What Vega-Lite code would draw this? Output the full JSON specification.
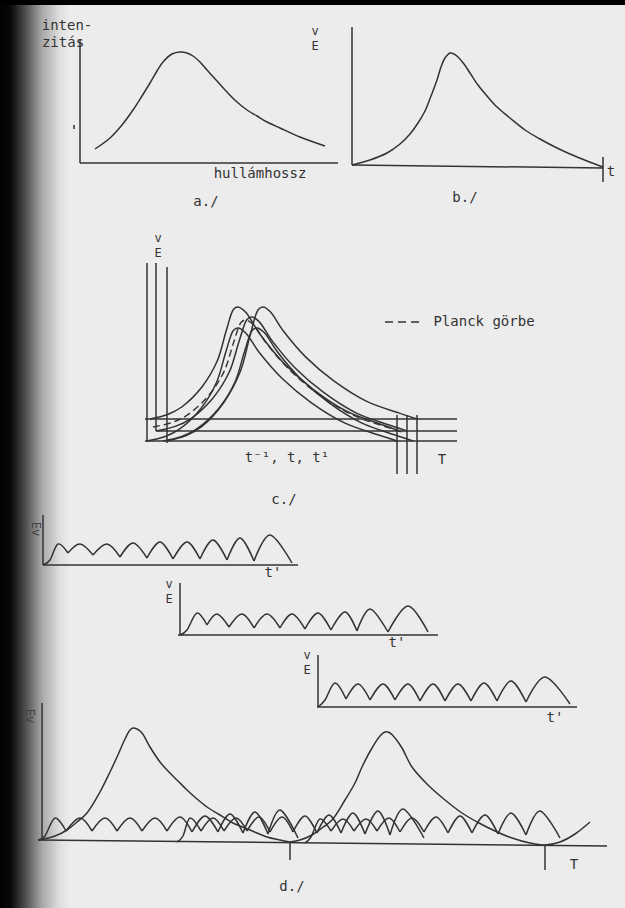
{
  "$schema": "https://vega.github.io/schema/vega-lite/v6.json",
  "width": 625,
  "height": 908,
  "padding": 0,
  "autosize": {"type": "none"},
  "background": "#ececec",
  "config": {"view": {"stroke": null}},
  "datasets": {
    "band": [{"x": 0, "x2": 625, "y": 0, "y2": 5}],
    "edge": [{"x": 0, "x2": 70, "y": 0, "y2": 908}],
    "segs": [
      {"x": 80, "y": 40, "x2": 80, "y2": 163},
      {"x": 80, "y": 163, "x2": 338, "y2": 163},
      {"x": 74, "y": 125, "x2": 74, "y2": 129},
      {"x": 352, "y": 27, "x2": 352, "y2": 165},
      {"x": 352, "y": 165, "x2": 603, "y2": 168},
      {"x": 603, "y": 157, "x2": 603, "y2": 182},
      {"x": 147, "y": 263, "x2": 147, "y2": 442},
      {"x": 156, "y": 263, "x2": 156, "y2": 431},
      {"x": 167, "y": 267, "x2": 167, "y2": 443},
      {"x": 145, "y": 419, "x2": 457, "y2": 419},
      {"x": 156, "y": 431, "x2": 457, "y2": 431},
      {"x": 145, "y": 441, "x2": 457, "y2": 441},
      {"x": 397, "y": 415, "x2": 397, "y2": 474},
      {"x": 407, "y": 415, "x2": 407, "y2": 474},
      {"x": 417, "y": 415, "x2": 417, "y2": 474},
      {"x": 43, "y": 515, "x2": 43, "y2": 565},
      {"x": 43, "y": 565, "x2": 298, "y2": 565},
      {"x": 180, "y": 583, "x2": 180, "y2": 635},
      {"x": 178, "y": 635, "x2": 438, "y2": 635},
      {"x": 318, "y": 655, "x2": 318, "y2": 707},
      {"x": 317, "y": 707, "x2": 577, "y2": 707},
      {"x": 42, "y": 703, "x2": 42, "y2": 840},
      {"x": 38, "y": 840, "x2": 607, "y2": 846},
      {"x": 290, "y": 842, "x2": 290, "y2": 860},
      {"x": 545, "y": 845, "x2": 545, "y2": 870}
    ],
    "legendDash": [{"x": 385, "y": 322, "x2": 420, "y2": 322}],
    "curves": [
      {"id": "a", "x": 95, "y": 149}, {"id": "a", "x": 110, "y": 138}, {"id": "a", "x": 122, "y": 125}, {"id": "a", "x": 133, "y": 110}, {"id": "a", "x": 142, "y": 96}, {"id": "a", "x": 150, "y": 83}, {"id": "a", "x": 157, "y": 71}, {"id": "a", "x": 163, "y": 62}, {"id": "a", "x": 172, "y": 54}, {"id": "a", "x": 180, "y": 52}, {"id": "a", "x": 187, "y": 53}, {"id": "a", "x": 193, "y": 56}, {"id": "a", "x": 200, "y": 62}, {"id": "a", "x": 207, "y": 70}, {"id": "a", "x": 217, "y": 81}, {"id": "a", "x": 227, "y": 92}, {"id": "a", "x": 237, "y": 102}, {"id": "a", "x": 247, "y": 110}, {"id": "a", "x": 257, "y": 116}, {"id": "a", "x": 267, "y": 122}, {"id": "a", "x": 280, "y": 128}, {"id": "a", "x": 300, "y": 137}, {"id": "a", "x": 325, "y": 146},
      {"id": "b", "x": 352, "y": 165}, {"id": "b", "x": 370, "y": 160}, {"id": "b", "x": 387, "y": 153}, {"id": "b", "x": 400, "y": 144}, {"id": "b", "x": 410, "y": 134}, {"id": "b", "x": 418, "y": 123}, {"id": "b", "x": 425, "y": 111}, {"id": "b", "x": 431, "y": 96}, {"id": "b", "x": 437, "y": 80}, {"id": "b", "x": 441, "y": 67}, {"id": "b", "x": 445, "y": 58}, {"id": "b", "x": 450, "y": 53}, {"id": "b", "x": 454, "y": 54}, {"id": "b", "x": 458, "y": 57}, {"id": "b", "x": 464, "y": 64}, {"id": "b", "x": 470, "y": 73}, {"id": "b", "x": 478, "y": 85}, {"id": "b", "x": 487, "y": 96}, {"id": "b", "x": 497, "y": 107}, {"id": "b", "x": 510, "y": 118}, {"id": "b", "x": 525, "y": 130}, {"id": "b", "x": 540, "y": 139}, {"id": "b", "x": 555, "y": 147}, {"id": "b", "x": 570, "y": 154}, {"id": "b", "x": 587, "y": 161}, {"id": "b", "x": 603, "y": 167},
      {"id": "cA", "x": 150, "y": 419}, {"id": "cA", "x": 167.6, "y": 414.5}, {"id": "cA", "x": 181.7, "y": 407}, {"id": "cA", "x": 201.9, "y": 387}, {"id": "cA", "x": 217.3, "y": 360.8}, {"id": "cA", "x": 226.3, "y": 330.5}, {"id": "cA", "x": 233.6, "y": 309.2}, {"id": "cA", "x": 238, "y": 307}, {"id": "cA", "x": 245.5, "y": 312}, {"id": "cA", "x": 259.1, "y": 333}, {"id": "cA", "x": 283.4, "y": 362.8}, {"id": "cA", "x": 312.5, "y": 388.8}, {"id": "cA", "x": 346.5, "y": 411.2}, {"id": "cA", "x": 382.2, "y": 424.8}, {"id": "cA", "x": 400, "y": 431},
      {"id": "cB", "x": 167, "y": 441}, {"id": "cB", "x": 186.2, "y": 435.6}, {"id": "cB", "x": 201.6, "y": 426.7}, {"id": "cB", "x": 223.6, "y": 402.7}, {"id": "cB", "x": 240.4, "y": 371.3}, {"id": "cB", "x": 250.2, "y": 335.1}, {"id": "cB", "x": 258.2, "y": 309.7}, {"id": "cB", "x": 263, "y": 307}, {"id": "cB", "x": 270.1, "y": 311.5}, {"id": "cB", "x": 283, "y": 330.5}, {"id": "cB", "x": 306.1, "y": 357.4}, {"id": "cB", "x": 333.8, "y": 380.9}, {"id": "cB", "x": 366.2, "y": 401.1}, {"id": "cB", "x": 400.1, "y": 413.4}, {"id": "cB", "x": 417, "y": 419},
      {"id": "cC", "x": 156, "y": 431}, {"id": "cC", "x": 175.2, "y": 426.4}, {"id": "cC", "x": 190.6, "y": 418.8}, {"id": "cC", "x": 212.6, "y": 398.4}, {"id": "cC", "x": 229.4, "y": 371.7}, {"id": "cC", "x": 239.2, "y": 340.9}, {"id": "cC", "x": 247.2, "y": 319.3}, {"id": "cC", "x": 252, "y": 317}, {"id": "cC", "x": 259.1, "y": 321.6}, {"id": "cC", "x": 272.2, "y": 340.9}, {"id": "cC", "x": 295.4, "y": 368.3}, {"id": "cC", "x": 323.3, "y": 392.2}, {"id": "cC", "x": 355.9, "y": 412.8}, {"id": "cC", "x": 390, "y": 425.3}, {"id": "cC", "x": 407, "y": 431},
      {"id": "cD", "x": 147, "y": 441}, {"id": "cD", "x": 165.2, "y": 436.5}, {"id": "cD", "x": 179.8, "y": 428.9}, {"id": "cD", "x": 200.7, "y": 408.7}, {"id": "cD", "x": 216.6, "y": 382.2}, {"id": "cD", "x": 225.9, "y": 351.7}, {"id": "cD", "x": 233.5, "y": 330.3}, {"id": "cD", "x": 238, "y": 328}, {"id": "cD", "x": 245.3, "y": 332.5}, {"id": "cD", "x": 258.7, "y": 351.7}, {"id": "cD", "x": 282.5, "y": 378.8}, {"id": "cD", "x": 311.1, "y": 402.6}, {"id": "cD", "x": 344.5, "y": 422.9}, {"id": "cD", "x": 379.5, "y": 435.3}, {"id": "cD", "x": 397, "y": 441},
      {"id": "cE", "x": 163, "y": 441}, {"id": "cE", "x": 181.8, "y": 436.5}, {"id": "cE", "x": 196.8, "y": 428.9}, {"id": "cE", "x": 218.5, "y": 408.7}, {"id": "cE", "x": 234.9, "y": 382.2}, {"id": "cE", "x": 244.5, "y": 351.7}, {"id": "cE", "x": 252.3, "y": 330.3}, {"id": "cE", "x": 257, "y": 328}, {"id": "cE", "x": 264.2, "y": 332.5}, {"id": "cE", "x": 277.3, "y": 351.7}, {"id": "cE", "x": 300.7, "y": 378.8}, {"id": "cE", "x": 328.8, "y": 402.6}, {"id": "cE", "x": 361.5, "y": 422.9}, {"id": "cE", "x": 395.8, "y": 435.3}, {"id": "cE", "x": 413, "y": 441},
      {"id": "d1", "x": 38, "y": 840}, {"id": "d1", "x": 55, "y": 836}, {"id": "d1", "x": 67, "y": 830}, {"id": "d1", "x": 77, "y": 822}, {"id": "d1", "x": 87, "y": 813}, {"id": "d1", "x": 100, "y": 792}, {"id": "d1", "x": 110, "y": 772}, {"id": "d1", "x": 117, "y": 757}, {"id": "d1", "x": 125, "y": 739}, {"id": "d1", "x": 130, "y": 730}, {"id": "d1", "x": 133, "y": 728}, {"id": "d1", "x": 137, "y": 729}, {"id": "d1", "x": 142, "y": 733}, {"id": "d1", "x": 150, "y": 747}, {"id": "d1", "x": 160, "y": 762}, {"id": "d1", "x": 167, "y": 770}, {"id": "d1", "x": 178, "y": 781}, {"id": "d1", "x": 187, "y": 790}, {"id": "d1", "x": 197, "y": 799}, {"id": "d1", "x": 207, "y": 807}, {"id": "d1", "x": 220, "y": 815}, {"id": "d1", "x": 233, "y": 823}, {"id": "d1", "x": 250, "y": 830}, {"id": "d1", "x": 267, "y": 837}, {"id": "d1", "x": 280, "y": 840}, {"id": "d1", "x": 290, "y": 842},
      {"id": "d2", "x": 290, "y": 842}, {"id": "d2", "x": 300, "y": 840}, {"id": "d2", "x": 312, "y": 835}, {"id": "d2", "x": 322, "y": 828}, {"id": "d2", "x": 332, "y": 820}, {"id": "d2", "x": 345, "y": 800}, {"id": "d2", "x": 355, "y": 783}, {"id": "d2", "x": 362, "y": 767}, {"id": "d2", "x": 372, "y": 748}, {"id": "d2", "x": 380, "y": 736}, {"id": "d2", "x": 385, "y": 732}, {"id": "d2", "x": 390, "y": 733}, {"id": "d2", "x": 395, "y": 738}, {"id": "d2", "x": 402, "y": 748}, {"id": "d2", "x": 412, "y": 767}, {"id": "d2", "x": 428, "y": 785}, {"id": "d2", "x": 445, "y": 800}, {"id": "d2", "x": 462, "y": 813}, {"id": "d2", "x": 479, "y": 823}, {"id": "d2", "x": 495, "y": 831}, {"id": "d2", "x": 512, "y": 838}, {"id": "d2", "x": 530, "y": 843}, {"id": "d2", "x": 545, "y": 845}, {"id": "d2", "x": 560, "y": 842}, {"id": "d2", "x": 575, "y": 834}, {"id": "d2", "x": 590, "y": 822}
    ],
    "bumps": [
      {"id": "r1a", "x": 43, "y": 565}, {"id": "r1a", "x": 50, "y": 560}, {"id": "r1a", "x": 58, "y": 544}, {"id": "r1a", "x": 68, "y": 553},
      {"id": "r1b", "x": 68, "y": 553}, {"id": "r1b", "x": 80, "y": 544}, {"id": "r1b", "x": 93, "y": 555},
      {"id": "r1c", "x": 93, "y": 555}, {"id": "r1c", "x": 107, "y": 544}, {"id": "r1c", "x": 120, "y": 557},
      {"id": "r1d", "x": 120, "y": 557}, {"id": "r1d", "x": 133, "y": 543}, {"id": "r1d", "x": 147, "y": 558},
      {"id": "r1e", "x": 147, "y": 558}, {"id": "r1e", "x": 160, "y": 542}, {"id": "r1e", "x": 173, "y": 559},
      {"id": "r1f", "x": 173, "y": 559}, {"id": "r1f", "x": 187, "y": 542}, {"id": "r1f", "x": 200, "y": 559},
      {"id": "r1g", "x": 200, "y": 559}, {"id": "r1g", "x": 213, "y": 540}, {"id": "r1g", "x": 227, "y": 560},
      {"id": "r1h", "x": 227, "y": 560}, {"id": "r1h", "x": 240, "y": 538}, {"id": "r1h", "x": 254, "y": 561},
      {"id": "r1i", "x": 254, "y": 561}, {"id": "r1i", "x": 270, "y": 535}, {"id": "r1i", "x": 292, "y": 563},
      {"id": "r2a", "x": 180, "y": 635}, {"id": "r2a", "x": 187, "y": 630}, {"id": "r2a", "x": 197, "y": 613}, {"id": "r2a", "x": 207, "y": 625},
      {"id": "r2b", "x": 207, "y": 625}, {"id": "r2b", "x": 217, "y": 614}, {"id": "r2b", "x": 229, "y": 627},
      {"id": "r2c", "x": 229, "y": 627}, {"id": "r2c", "x": 242, "y": 614}, {"id": "r2c", "x": 254, "y": 628},
      {"id": "r2d", "x": 254, "y": 628}, {"id": "r2d", "x": 267, "y": 614}, {"id": "r2d", "x": 280, "y": 628},
      {"id": "r2e", "x": 280, "y": 628}, {"id": "r2e", "x": 292, "y": 614}, {"id": "r2e", "x": 305, "y": 629},
      {"id": "r2f", "x": 305, "y": 629}, {"id": "r2f", "x": 318, "y": 613}, {"id": "r2f", "x": 331, "y": 630},
      {"id": "r2g", "x": 331, "y": 630}, {"id": "r2g", "x": 345, "y": 612}, {"id": "r2g", "x": 357, "y": 631},
      {"id": "r2h", "x": 357, "y": 631}, {"id": "r2h", "x": 370, "y": 609}, {"id": "r2h", "x": 388, "y": 632},
      {"id": "r2i", "x": 388, "y": 632}, {"id": "r2i", "x": 408, "y": 606}, {"id": "r2i", "x": 428, "y": 632},
      {"id": "r3a", "x": 318, "y": 707}, {"id": "r3a", "x": 325, "y": 700}, {"id": "r3a", "x": 335, "y": 683}, {"id": "r3a", "x": 346, "y": 699},
      {"id": "r3b", "x": 346, "y": 699}, {"id": "r3b", "x": 358, "y": 684}, {"id": "r3b", "x": 370, "y": 700},
      {"id": "r3c", "x": 370, "y": 700}, {"id": "r3c", "x": 383, "y": 684}, {"id": "r3c", "x": 395, "y": 700},
      {"id": "r3d", "x": 395, "y": 700}, {"id": "r3d", "x": 408, "y": 684}, {"id": "r3d", "x": 420, "y": 701},
      {"id": "r3e", "x": 420, "y": 701}, {"id": "r3e", "x": 433, "y": 684}, {"id": "r3e", "x": 445, "y": 701},
      {"id": "r3f", "x": 445, "y": 701}, {"id": "r3f", "x": 458, "y": 684}, {"id": "r3f", "x": 471, "y": 701},
      {"id": "r3g", "x": 471, "y": 701}, {"id": "r3g", "x": 484, "y": 683}, {"id": "r3g", "x": 497, "y": 701},
      {"id": "r3h", "x": 497, "y": 701}, {"id": "r3h", "x": 511, "y": 681}, {"id": "r3h", "x": 526, "y": 702},
      {"id": "r3i", "x": 526, "y": 702}, {"id": "r3i", "x": 545, "y": 677}, {"id": "r3i", "x": 570, "y": 704},
      {"id": "w1a", "x": 38, "y": 840}, {"id": "w1a", "x": 45, "y": 836}, {"id": "w1a", "x": 55, "y": 818}, {"id": "w1a", "x": 66, "y": 831},
      {"id": "w1b", "x": 66, "y": 831}, {"id": "w1b", "x": 80, "y": 818}, {"id": "w1b", "x": 92, "y": 831},
      {"id": "w1c", "x": 92, "y": 831}, {"id": "w1c", "x": 105, "y": 818}, {"id": "w1c", "x": 117, "y": 831},
      {"id": "w1d", "x": 117, "y": 831}, {"id": "w1d", "x": 130, "y": 818}, {"id": "w1d", "x": 142, "y": 831},
      {"id": "w1e", "x": 142, "y": 831}, {"id": "w1e", "x": 155, "y": 818}, {"id": "w1e", "x": 167, "y": 831},
      {"id": "w1f", "x": 167, "y": 831}, {"id": "w1f", "x": 180, "y": 817}, {"id": "w1f", "x": 192, "y": 832},
      {"id": "w1g", "x": 192, "y": 832}, {"id": "w1g", "x": 205, "y": 816}, {"id": "w1g", "x": 218, "y": 832},
      {"id": "w1h", "x": 218, "y": 832}, {"id": "w1h", "x": 230, "y": 814}, {"id": "w1h", "x": 243, "y": 833},
      {"id": "w1i", "x": 243, "y": 833}, {"id": "w1i", "x": 255, "y": 812}, {"id": "w1i", "x": 268, "y": 834},
      {"id": "w1j", "x": 268, "y": 834}, {"id": "w1j", "x": 280, "y": 810}, {"id": "w1j", "x": 298, "y": 838},
      {"id": "w2a", "x": 177, "y": 842}, {"id": "w2a", "x": 183, "y": 836}, {"id": "w2a", "x": 190, "y": 818}, {"id": "w2a", "x": 201, "y": 831},
      {"id": "w2b", "x": 201, "y": 831}, {"id": "w2b", "x": 213, "y": 818}, {"id": "w2b", "x": 224, "y": 831},
      {"id": "w2c", "x": 224, "y": 831}, {"id": "w2c", "x": 236, "y": 818}, {"id": "w2c", "x": 247, "y": 831},
      {"id": "w2d", "x": 247, "y": 831}, {"id": "w2d", "x": 259, "y": 817}, {"id": "w2d", "x": 270, "y": 832},
      {"id": "w2e", "x": 270, "y": 832}, {"id": "w2e", "x": 282, "y": 817}, {"id": "w2e", "x": 293, "y": 832},
      {"id": "w2f", "x": 293, "y": 832}, {"id": "w2f", "x": 305, "y": 816}, {"id": "w2f", "x": 317, "y": 833},
      {"id": "w2g", "x": 317, "y": 833}, {"id": "w2g", "x": 329, "y": 815}, {"id": "w2g", "x": 341, "y": 833},
      {"id": "w2h", "x": 341, "y": 833}, {"id": "w2h", "x": 353, "y": 813}, {"id": "w2h", "x": 365, "y": 834},
      {"id": "w2i", "x": 365, "y": 834}, {"id": "w2i", "x": 378, "y": 811}, {"id": "w2i", "x": 390, "y": 835},
      {"id": "w2j", "x": 390, "y": 835}, {"id": "w2j", "x": 403, "y": 809}, {"id": "w2j", "x": 424, "y": 838},
      {"id": "w3a", "x": 305, "y": 843}, {"id": "w3a", "x": 311, "y": 837}, {"id": "w3a", "x": 320, "y": 819}, {"id": "w3a", "x": 331, "y": 831},
      {"id": "w3b", "x": 331, "y": 831}, {"id": "w3b", "x": 343, "y": 819}, {"id": "w3b", "x": 354, "y": 831},
      {"id": "w3c", "x": 354, "y": 831}, {"id": "w3c", "x": 366, "y": 819}, {"id": "w3c", "x": 377, "y": 831},
      {"id": "w3d", "x": 377, "y": 831}, {"id": "w3d", "x": 389, "y": 818}, {"id": "w3d", "x": 400, "y": 832},
      {"id": "w3e", "x": 400, "y": 832}, {"id": "w3e", "x": 412, "y": 818}, {"id": "w3e", "x": 424, "y": 832},
      {"id": "w3f", "x": 424, "y": 832}, {"id": "w3f", "x": 436, "y": 817}, {"id": "w3f", "x": 448, "y": 833},
      {"id": "w3g", "x": 448, "y": 833}, {"id": "w3g", "x": 460, "y": 816}, {"id": "w3g", "x": 472, "y": 833},
      {"id": "w3h", "x": 472, "y": 833}, {"id": "w3h", "x": 485, "y": 815}, {"id": "w3h", "x": 498, "y": 834},
      {"id": "w3i", "x": 498, "y": 834}, {"id": "w3i", "x": 511, "y": 813}, {"id": "w3i", "x": 526, "y": 835},
      {"id": "w3j", "x": 526, "y": 835}, {"id": "w3j", "x": 540, "y": 811}, {"id": "w3j", "x": 560, "y": 838}
    ],
    "planck": [
      {"id": "P", "x": 153, "y": 427}, {"id": "P", "x": 171.6, "y": 422.7}, {"id": "P", "x": 186.5, "y": 415.6}, {"id": "P", "x": 207.9, "y": 396.4}, {"id": "P", "x": 224.1, "y": 371.4}, {"id": "P", "x": 233.6, "y": 342.5}, {"id": "P", "x": 241.4, "y": 322.1}, {"id": "P", "x": 246, "y": 320}, {"id": "P", "x": 253.3, "y": 324.5}, {"id": "P", "x": 266.7, "y": 343.7}, {"id": "P", "x": 290.5, "y": 370.8}, {"id": "P", "x": 319.1, "y": 394.6}, {"id": "P", "x": 352.5, "y": 414.9}, {"id": "P", "x": 387.5, "y": 427.3}, {"id": "P", "x": 405, "y": 433}
    ],
    "labels": [
      {"x": 67, "y": 26, "text": "inten-"},
      {"x": 63, "y": 43, "text": "zitás"},
      {"x": 260, "y": 174, "text": "hullámhossz"},
      {"x": 206, "y": 202, "text": "a./"},
      {"x": 611, "y": 172, "text": "t"},
      {"x": 465, "y": 198, "text": "b./"},
      {"x": 484, "y": 322, "text": "Planck görbe"},
      {"x": 287, "y": 458, "text": "t⁻¹, t, t¹"},
      {"x": 442, "y": 460, "text": "T"},
      {"x": 284, "y": 500, "text": "c./"},
      {"x": 273, "y": 573, "text": "t'"},
      {"x": 397, "y": 643, "text": "t'"},
      {"x": 555, "y": 718, "text": "t'"},
      {"x": 574, "y": 865, "text": "T"},
      {"x": 292, "y": 887, "text": "d./"}
    ],
    "stacked": [
      {"x": 315, "y": 31, "text": "v"},
      {"x": 315, "y": 46, "text": "E"},
      {"x": 158, "y": 238, "text": "v"},
      {"x": 158, "y": 253, "text": "E"},
      {"x": 169, "y": 584, "text": "v"},
      {"x": 169, "y": 599, "text": "E"},
      {"x": 307, "y": 655, "text": "v"},
      {"x": 307, "y": 670, "text": "E"}
    ],
    "rlabels": [
      {"x": 36, "y": 529, "text": "Ev"},
      {"x": 30, "y": 716, "text": "Ev"}
    ]
  },
  "layer": [
    {
      "data": {"name": "edge"},
      "mark": {"type": "rect", "fill": {"gradient": "linear", "x1": 0, "y1": 0, "x2": 1, "y2": 0, "stops": [{"offset": 0, "color": "#000000"}, {"offset": 0.15, "color": "#080808"}, {"offset": 0.35, "color": "#4a4a4a"}, {"offset": 0.6, "color": "#a8a8a8"}, {"offset": 0.85, "color": "#dedede"}, {"offset": 1, "color": "#ececec"}]}},
      "encoding": {
        "x": {"field": "x", "type": "quantitative", "scale": {"domain": [0, 625], "nice": false, "zero": false}, "axis": null},
        "x2": {"field": "x2"},
        "y": {"field": "y", "type": "quantitative", "scale": {"domain": [0, 908], "nice": false, "zero": false, "reverse": true}, "axis": null},
        "y2": {"field": "y2"}
      }
    },
    {
      "data": {"name": "band"},
      "mark": {"type": "rect", "fill": "#000000"},
      "encoding": {
        "x": {"field": "x", "type": "quantitative", "axis": null},
        "x2": {"field": "x2"},
        "y": {"field": "y", "type": "quantitative", "axis": null},
        "y2": {"field": "y2"}
      }
    },
    {
      "data": {"name": "segs"},
      "mark": {"type": "rule", "color": "#333333", "strokeWidth": 1.5},
      "encoding": {
        "x": {"field": "x", "type": "quantitative", "axis": null},
        "x2": {"field": "x2"},
        "y": {"field": "y", "type": "quantitative", "axis": null},
        "y2": {"field": "y2"}
      }
    },
    {
      "data": {"name": "legendDash"},
      "mark": {"type": "rule", "color": "#333333", "strokeWidth": 1.5, "strokeDash": [8, 5]},
      "encoding": {
        "x": {"field": "x", "type": "quantitative", "axis": null},
        "x2": {"field": "x2"},
        "y": {"field": "y", "type": "quantitative", "axis": null},
        "y2": {"field": "y2"}
      }
    },
    {
      "data": {"name": "curves"},
      "mark": {"type": "line", "color": "#333333", "strokeWidth": 1.5, "interpolate": "catmull-rom"},
      "encoding": {
        "x": {"field": "x", "type": "quantitative", "axis": null},
        "y": {"field": "y", "type": "quantitative", "axis": null},
        "detail": {"field": "id", "type": "nominal"}
      }
    },
    {
      "data": {"name": "bumps"},
      "mark": {"type": "line", "color": "#333333", "strokeWidth": 1.5, "interpolate": "cardinal"},
      "encoding": {
        "x": {"field": "x", "type": "quantitative", "axis": null},
        "y": {"field": "y", "type": "quantitative", "axis": null},
        "detail": {"field": "id", "type": "nominal"}
      }
    },
    {
      "data": {"name": "planck"},
      "mark": {"type": "line", "color": "#333333", "strokeWidth": 1.4, "strokeDash": [7, 4], "interpolate": "catmull-rom"},
      "encoding": {
        "x": {"field": "x", "type": "quantitative", "axis": null},
        "y": {"field": "y", "type": "quantitative", "axis": null},
        "detail": {"field": "id", "type": "nominal"}
      }
    },
    {
      "data": {"name": "labels"},
      "mark": {"type": "text", "font": "DejaVu Sans Mono", "fontSize": 14, "color": "#333333", "baseline": "middle", "align": "center"},
      "encoding": {
        "x": {"field": "x", "type": "quantitative", "axis": null},
        "y": {"field": "y", "type": "quantitative", "axis": null},
        "text": {"field": "text"}
      }
    },
    {
      "data": {"name": "stacked"},
      "mark": {"type": "text", "font": "DejaVu Sans Mono", "fontSize": 12, "color": "#333333", "baseline": "middle", "align": "center"},
      "encoding": {
        "x": {"field": "x", "type": "quantitative", "axis": null},
        "y": {"field": "y", "type": "quantitative", "axis": null},
        "text": {"field": "text"}
      }
    },
    {
      "data": {"name": "rlabels"},
      "mark": {"type": "text", "font": "DejaVu Sans Mono", "fontSize": 12, "color": "#444444", "baseline": "middle", "align": "center", "angle": 90},
      "encoding": {
        "x": {"field": "x", "type": "quantitative", "axis": null},
        "y": {"field": "y", "type": "quantitative", "axis": null},
        "text": {"field": "text"}
      }
    }
  ]
}
